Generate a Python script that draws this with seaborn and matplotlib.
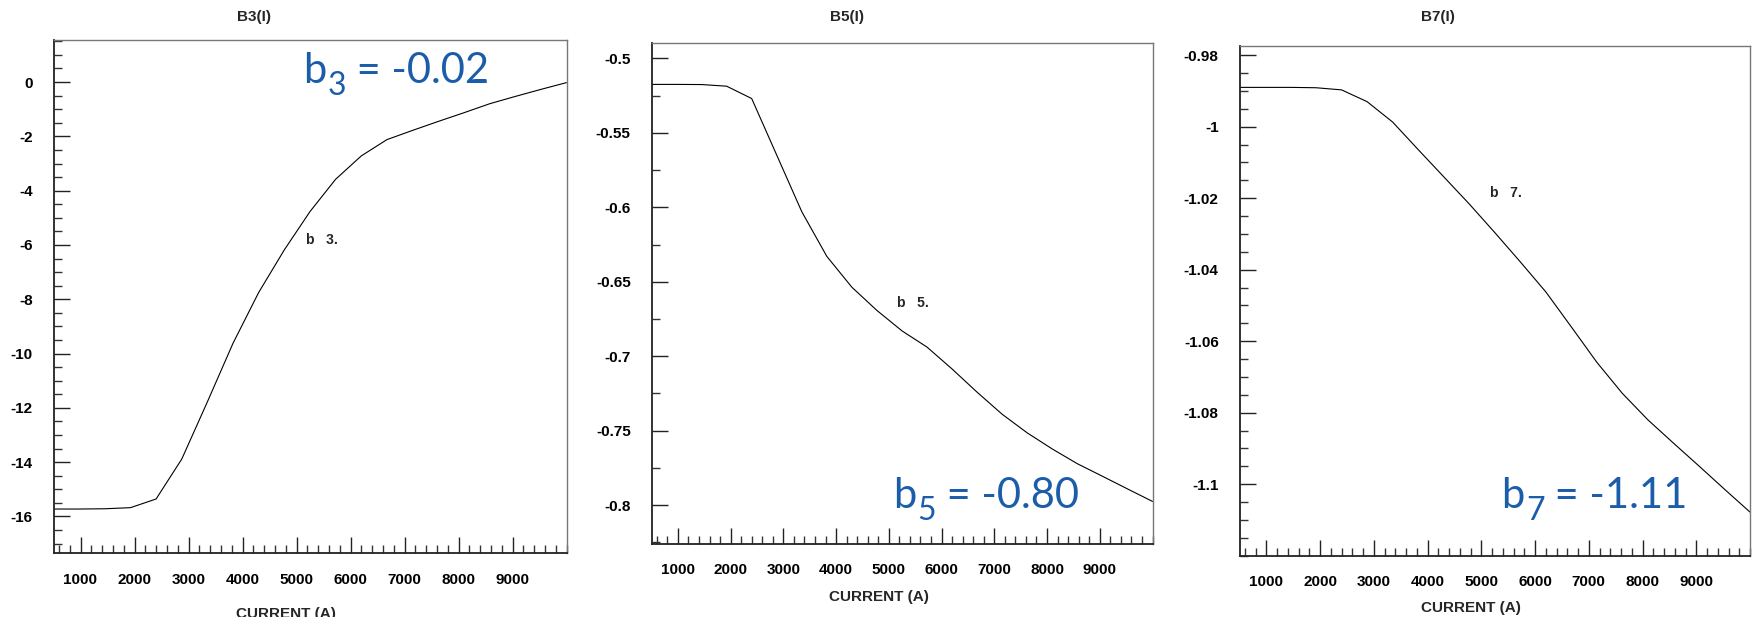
import matplotlib
matplotlib.use("Agg")
import matplotlib.pyplot as plt
import numpy as np
import pandas as pd
import seaborn as sns
from matplotlib.ticker import FixedLocator, MultipleLocator, NullFormatter

# ---------------- data ----------------
current_a = [500, 975, 1450, 1925, 2400, 2875, 3350, 3825, 4300, 4775, 5250,
             5725, 6200, 6675, 7150, 7625, 8100, 8575, 9050, 9525, 10000]
b3_values = [-15.73, -15.73, -15.72, -15.68, -15.36, -13.89, -11.78, -9.62, -7.75,
             -6.18, -4.77, -3.58, -2.72, -2.12, -1.78, -1.45, -1.13, -0.80, -0.53,
             -0.27, -0.02]
b5_values = [-0.5175, -0.5175, -0.5176, -0.5187, -0.5270, -0.5650, -0.6030, -0.6330,
             -0.6537, -0.6693, -0.6830, -0.6939, -0.7086, -0.7242, -0.7390, -0.7515,
             -0.7623, -0.7722, -0.7806, -0.7891, -0.7975]
b7_values = [-0.9890, -0.9890, -0.9890, -0.9891, -0.9897, -0.9930, -0.9987, -1.0064,
             -1.0140, -1.0216, -1.0296, -1.0378, -1.0462, -1.0560, -1.0659, -1.0746,
             -1.0820, -1.0885, -1.0949, -1.1014, -1.1078]

panel_titles = ["B3(I)", "B5(I)", "B7(I)"]
curve_labels = ["b   3.", "b   5.", "b   7."]
harmonic_index = ["3", "5", "7"]
harmonic_value = [" = -0.02", " = -0.80", " = -1.11"]
x_label = "CURRENT (A)"

x_tick_values = [1000, 2000, 3000, 4000, 5000, 6000, 7000, 8000, 9000]
x_tick_labels = ["1000", "2000", "3000", "4000", "5000", "6000", "7000", "8000", "9000"]
y_tick_values = [
    [0, -2, -4, -6, -8, -10, -12, -14, -16],
    [-0.5, -0.55, -0.6, -0.65, -0.7, -0.75, -0.8],
    [-0.98, -1.0, -1.02, -1.04, -1.06, -1.08, -1.1],
]
y_tick_labels = [
    ["0", "-2", "-4", "-6", "-8", "-10", "-12", "-14", "-16"],
    ["-0.5", "-0.55", "-0.6", "-0.65", "-0.7", "-0.75", "-0.8"],
    ["-0.98", "-1", "-1.02", "-1.04", "-1.06", "-1.08", "-1.1"],
]

# ---------------- layout / style ----------------
W, H = 1752, 617
sns.set_theme(style="white")
plt.rcParams["font.family"] = ["Liberation Sans", "DejaVu Sans"]
plt.rcParams["axes.unicode_minus"] = False

fig = plt.figure(figsize=(W / 100, H / 100), dpi=100)
fig.patch.set_facecolor("white")

# axes boxes in pixels: left, right, top, bottom
boxes = [(53.5, 566.5, 40.0, 553.0),
         (651.5, 1152.5, 43.3, 543.7),
         (1239.5, 1750.0, 45.7, 555.7)]
ylims = [(-17.35, 1.55), (-0.8259, -0.4899), (-1.1200, -0.97734)]
y_minor = [0.5, 0.025, 0.005]
xlabel_y = [-0.118, -0.106, -0.103]
small_label_pos = [(306, 240), (897.3, 302.7), (1489.6, 193.3)]
big_text_pos = [(303.5, 83.3), (892.7, 508.3), (1501.6, 508.3)]
title_x = [253.7, 846.7, 1438.0]

series = [b3_values, b5_values, b7_values]
blue = "#1B5DA8"
tick_fs = 11

axes = []
for i, (l, r, t, b) in enumerate(boxes):
    ax = fig.add_axes([l / W, 1 - b / H, (r - l) / W, (b - t) / H])
    axes.append(ax)
    df = pd.DataFrame({"current": current_a, "value": series[i]})
    sns.lineplot(data=df, x="current", y="value", ax=ax, color="black",
                 linewidth=0.8, estimator=None, sort=False)
    ax.set_xlim(500, 10000)
    ax.set_ylim(*ylims[i])
    ax.set_facecolor("white")
    ax.grid(False)

    ax.xaxis.set_major_locator(FixedLocator(x_tick_values))
    ax.set_xticklabels(x_tick_labels, fontweight="bold", fontsize=tick_fs)
    ax.xaxis.set_minor_locator(MultipleLocator(200))
    ax.yaxis.set_major_locator(FixedLocator(y_tick_values[i]))
    ax.set_yticklabels(y_tick_labels[i], fontweight="bold", fontsize=tick_fs)
    ax.yaxis.set_minor_locator(MultipleLocator(y_minor[i]))
    ax.yaxis.set_minor_formatter(NullFormatter())
    ax.xaxis.set_minor_formatter(NullFormatter())

    ax.tick_params(axis="both", which="major", direction="in", length=11.3,
                   width=1.0, color="#222222", labelcolor="black",
                   top=False, right=False, bottom=True, left=True)
    ax.tick_params(axis="both", which="minor", direction="in", length=5.8,
                   width=1.0, color="#333333",
                   top=False, right=False, bottom=True, left=True)
    ax.tick_params(axis="x", which="major", pad=14.2)
    ax.tick_params(axis="y", which="major", pad=15)

    for side in ["left", "bottom"]:
        ax.spines[side].set_color("#222222")
        ax.spines[side].set_linewidth(1.3)
    for side in ["top", "right"]:
        ax.spines[side].set_color("#777777")
        ax.spines[side].set_linewidth(1.0)

    ax.set_ylabel("")
    ax.set_xlabel(x_label, fontweight="bold", fontsize=tick_fs)
    ax.xaxis.set_label_coords(0.454, xlabel_y[i])
    ax.xaxis.label.set_va("center")

    fig.text(title_x[i] / W, 1 - 16.7 / H, panel_titles[i], ha="center", va="center",
             fontweight="bold", fontsize=tick_fs)

    sx, sy = small_label_pos[i]
    fig.text(sx / W, 1 - sy / H, curve_labels[i], ha="left", va="center",
             fontweight="bold", fontsize=10)

# big blue annotations "b_n = value" built from three text pieces
fig.canvas.draw()
renderer = fig.canvas.get_renderer()
for i in range(3):
    bx, by = big_text_pos[i]
    t1 = fig.text(bx / W, 1 - by / H, "b", ha="left", va="baseline",
                  fontsize=30, color=blue, family=["Lato", "DejaVu Sans"])
    ext = t1.get_window_extent(renderer)
    x2 = ext.x1 + 1
    t2 = fig.text(x2 / W, 1 - (by + 12) / H, harmonic_index[i], ha="left",
                  va="baseline", fontsize=23, color=blue, family=["Lato", "DejaVu Sans"])
    ext2 = t2.get_window_extent(renderer)
    fig.text((ext2.x1) / W, 1 - by / H, harmonic_value[i], ha="left",
             va="baseline", fontsize=30, color=blue, family=["Lato", "DejaVu Sans"])

fig.savefig("out.png", dpi=100, facecolor="white")
